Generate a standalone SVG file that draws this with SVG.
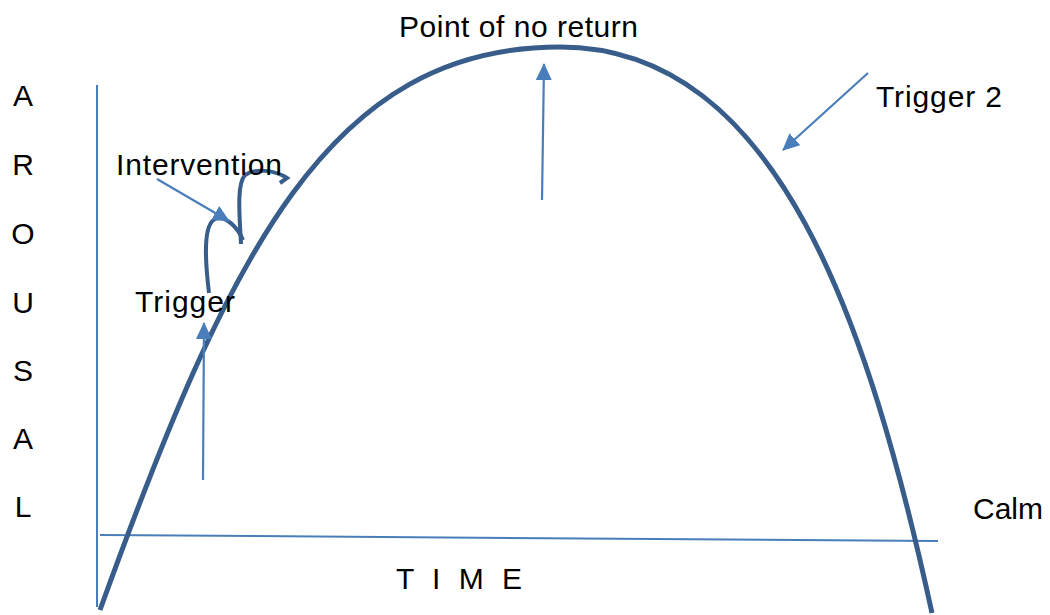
<svg xmlns="http://www.w3.org/2000/svg" width="1050" height="615" viewBox="0 0 1050 615">
<style>
.t{font-family:"Liberation Sans",Arial,sans-serif;font-size:30px;fill:#000}
.ax{stroke:#4a7ebb;stroke-width:2;fill:none}
.ar{stroke:#4a7ebb;stroke-width:2.2;fill:none;marker-end:url(#ah)}
.thick{stroke:#385d8a;stroke-width:5;fill:none;stroke-linecap:butt}
.squig{stroke:#385d8a;stroke-width:4;fill:none}
</style>
<defs>
<marker id="ah" markerUnits="userSpaceOnUse" markerWidth="18" markerHeight="18" viewBox="0 0 18 18" refX="16" refY="9" orient="auto">
<path d="M0,1 L17,9 L0,17 Z" fill="#4a7ebb"/>
</marker>
</defs>
<g id="axes">
<line class="ax" x1="97" y1="85" x2="97" y2="607"/>
<line class="ax" x1="100" y1="535" x2="938" y2="541"/>
</g>
<g id="curve">
<path class="thick" d="M100,610 C230,250 330,47 560,47 C780,47 870,330 932,613"/>
</g>
<g id="intervention-loop">
<path class="squig" d="M209,293 C205,260 203,225 215,219 C225,214 238,228 243,240"/>
<path class="squig" d="M241,244 C240,220 236,185 245,175 C255,168 275,170 287,178 L280,183"/>
</g>
<g id="connectors">
<line class="ar" x1="203" y1="480" x2="204" y2="323"/>
<line class="ar" x1="542" y1="200" x2="544" y2="64"/>
<line class="ar" x1="868" y1="73" x2="783" y2="150"/>
<line class="ar" x1="157" y1="179" x2="229" y2="221"/>
</g>
<g id="labels">
<text class="t" x="399" y="37" textLength="239" lengthAdjust="spacing">Point of no return</text>
<text class="t" x="876" y="107" textLength="126" lengthAdjust="spacing">Trigger 2</text>
<text class="t" x="116" y="175" textLength="166" lengthAdjust="spacing">Intervention</text>
<text class="t" x="135" y="312" textLength="100" lengthAdjust="spacing">Trigger</text>
<text class="t" x="973" y="519" textLength="70" lengthAdjust="spacing">Calm</text>
<text class="t" x="396" y="589" textLength="126" lengthAdjust="spacing">T I M E</text>
</g>
<g id="y-label" class="t" text-anchor="middle">
<text x="23" y="106">A</text>
<text x="23" y="175">R</text>
<text x="23" y="244">O</text>
<text x="23" y="313">U</text>
<text x="23" y="381">S</text>
<text x="23" y="449">A</text>
<text x="23" y="517">L</text>
</g>
</svg>
